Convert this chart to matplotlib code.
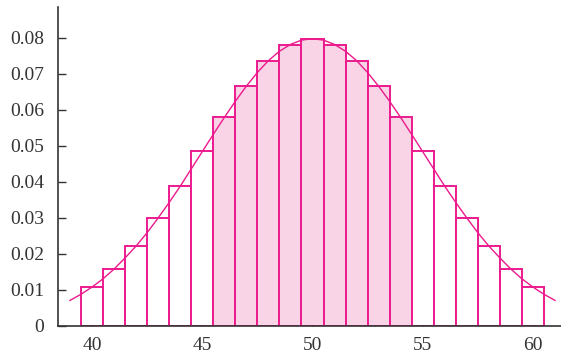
import numpy as np
import matplotlib.pyplot as plt

# binomial(100, 0.5) probabilities, k = 40..60
k = list(range(40, 61))
prob = [0.0108, 0.0159, 0.0223, 0.0301, 0.0390, 0.0485, 0.0580, 0.0666, 0.0735, 0.0780, 0.0796,
        0.0780, 0.0735, 0.0666, 0.0580, 0.0485, 0.0390, 0.0301, 0.0223, 0.0159, 0.0108]
shaded = list(range(46, 55))

# normal approximation curve, read at half-unit steps
curve_x = [39 + 0.5 * i for i in range(45)]
curve_y = [0.0071, 0.0088, 0.0108, 0.0131, 0.0158, 0.0189, 0.0222, 0.0259, 0.0300, 0.0343,
           0.0388, 0.0436, 0.0484, 0.0532, 0.0579, 0.0624, 0.0666, 0.0704, 0.0737, 0.0763,
           0.0782, 0.0794, 0.0798, 0.0794, 0.0782, 0.0763, 0.0737, 0.0704, 0.0666, 0.0624,
           0.0579, 0.0532, 0.0484, 0.0436, 0.0388, 0.0343, 0.0300, 0.0259, 0.0222, 0.0189,
           0.0158, 0.0131, 0.0108, 0.0088, 0.0071]

magenta = '#EC1A8D'
pink = '#F9D4E6'

plt.rcParams['font.family'] = ['Liberation Serif', 'DejaVu Serif']
fig = plt.figure(figsize=(5.61, 3.54), dpi=100)
ax = fig.add_axes([58 / 561, 28 / 354, 503 / 561, 319 / 354])

colors = [pink if v in shaded else 'white' for v in k]
ax.bar(k, prob, width=1.0, color=colors, edgecolor=magenta, linewidth=1.4, zorder=2)
ax.plot(curve_x, curve_y, color=magenta, linewidth=1.0, zorder=3)

ax.set_xlim(38.46, 61.27)
ax.set_ylim(0, 0.0886)
ax.set_xticks([40, 45, 50, 55, 60])
ax.set_yticks([0, 0.01, 0.02, 0.03, 0.04, 0.05, 0.06, 0.07, 0.08])
ax.set_yticklabels(['0', '0.01', '0.02', '0.03', '0.04', '0.05', '0.06', '0.07', '0.08'])
ax.tick_params(direction='in', length=6, width=1, colors='#333333', labelsize=14)
ax.tick_params(axis='x', pad=8)
ax.tick_params(axis='y', pad=10)
for s in ['top', 'right']:
    ax.spines[s].set_visible(False)
for s in ['left', 'bottom']:
    ax.spines[s].set_color('#333333')
    ax.spines[s].set_linewidth(1.2)

fig.savefig('out.png', dpi=100)
